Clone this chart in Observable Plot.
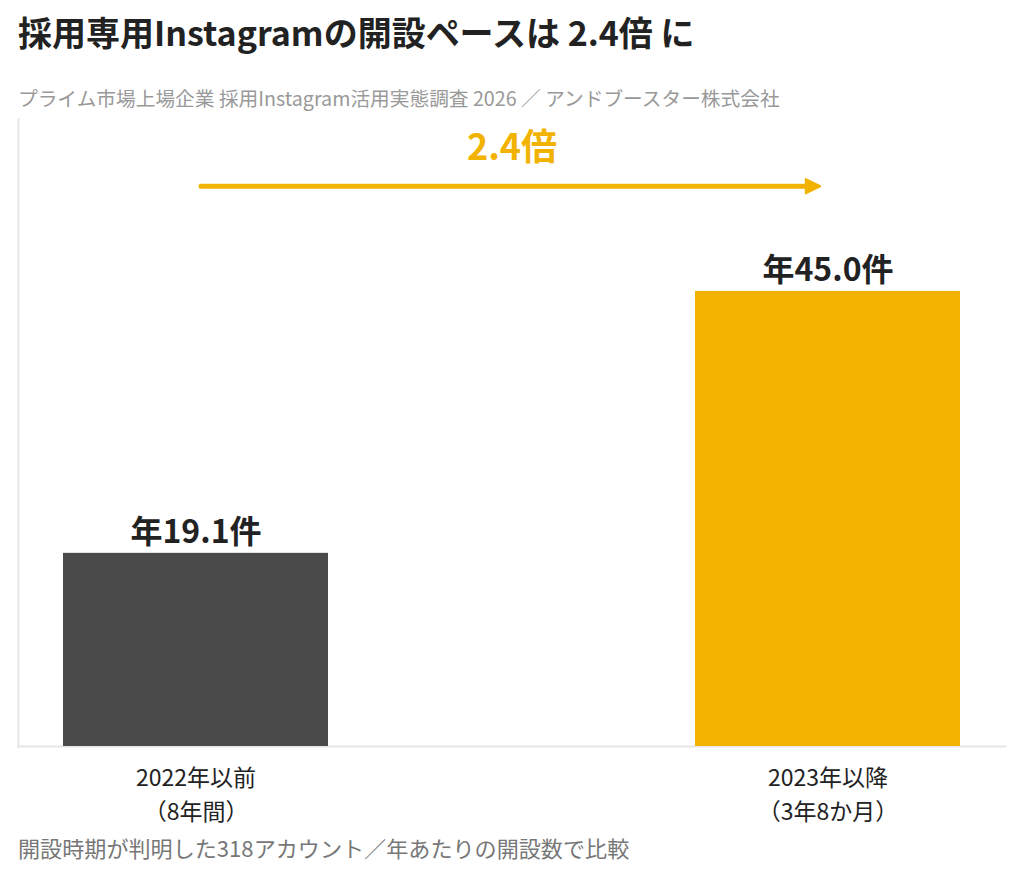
<!DOCTYPE html>
<html lang="ja">
<head>
<meta charset="utf-8">
<script src="https://cdn.jsdelivr.net/npm/d3@7"></script>
<script src="https://cdn.jsdelivr.net/npm/@observablehq/plot@0.6"></script>
<style>
  html, body { margin: 0; padding: 0; background: #fff; }
  body { font-family: "Noto Sans CJK JP", "Noto Sans", sans-serif; }
  #wrap { position: relative; width: 1024px; height: 877px; overflow: hidden; }
  .title { position: absolute; left: 18px; top: 14px; height: 36px; line-height: 36px; font-size: 34px; font-weight: 700; color: #222; white-space: nowrap; }
  .subtitle { position: absolute; left: 18px; top: 88px; height: 20px; line-height: 20px; font-size: 19.7px; color: #999; white-space: nowrap; }
  .caption { position: absolute; left: 18px; top: 836px; height: 22px; line-height: 22px; font-size: 22.1px; color: #777; white-space: nowrap; }
  #chart { position: absolute; left: 0; top: 112px; }
</style>
</head>
<body>
<div id="wrap">
  <div class="title">採用専用Instagramの開設ペースは 2.4倍 に</div>
  <div class="subtitle">プライム市場上場企業 採用Instagram活用実態調査 2026 ／ アンドブースター株式会社</div>
  <div id="chart"></div>
  <div class="caption">開設時期が判明した318アカウント／年あたりの開設数で比較</div>
</div>
<script>
// ---- data ----
const categories = ["2022年以前\n（8年間）", "2023年以降\n（3年8か月）"];
const values = [19.1, 45.0];
const valueLabels = ["年19.1件", "年45.0件"];
const barColors = ["#4a4a4a", "#f2b200"];
const ratioLabel = "2.4倍";
const yMax = 62;
const arrowLevel = 55.4;
const ratioLabelLevel = 58.0;

const rows = categories.map((c, i) => ({category: c, value: values[i], label: valueLabels[i], color: barColors[i]}));
const accent = barColors[1];

const rightTriangle = {
  draw(context, size) {
    const s = Math.sqrt(size / Math.PI) * 1.2;
    context.moveTo(s, 0);
    context.lineTo(-s, -s);
    context.lineTo(-s, s);
    context.closePath();
  }
};

const chart = Plot.plot({
  width: 1024,
  height: 716,
  marginLeft: 18,
  marginRight: 19,
  marginTop: 7,
  marginBottom: 82,
  style: {fontFamily: '"Noto Sans CJK JP", "Noto Sans", sans-serif', background: "transparent"},
  x: {domain: categories, paddingInner: 0.581, paddingOuter: 0.0707, axis: null},
  y: {domain: [0, yMax], axis: null},
  marks: [
    Plot.frame({anchor: "left", stroke: "#e6e6e6", strokeWidth: 2}),
    Plot.frame({anchor: "bottom", stroke: "#e6e6e6", strokeWidth: 2}),
    Plot.barY(rows, {x: "category", y: "value", fill: "color"}),
    Plot.text(rows, {x: "category", y: "value", text: "label", lineAnchor: "bottom", dy: -10, fontSize: 32, fontWeight: 700, fill: "#222"}),
    Plot.arrow([0], {
      x1: () => categories[0], x2: () => categories[1],
      y1: () => arrowLevel, y2: () => arrowLevel,
      headLength: 0, insetStart: 5, insetEnd: 15,
      stroke: accent, strokeWidth: 5, strokeLinecap: "round"
    }),
    Plot.dot([0], {
      x: () => categories[1], y: () => arrowLevel, dx: -15,
      symbol: rightTriangle, r: 6, fill: accent, stroke: accent, strokeWidth: 2, strokeLinejoin: "round"
    }),
    Plot.text([ratioLabel], {y: () => ratioLabelLevel, text: d => d, lineAnchor: "bottom", fontSize: 36, fontWeight: 700, fill: accent}),
    Plot.axisX({tickSize: 0, tickPadding: 16, fontSize: 23, lineHeight: 1.45, fill: "#222", label: null})
  ]
});
document.getElementById("chart").appendChild(chart);
</script>
</body>
</html>
